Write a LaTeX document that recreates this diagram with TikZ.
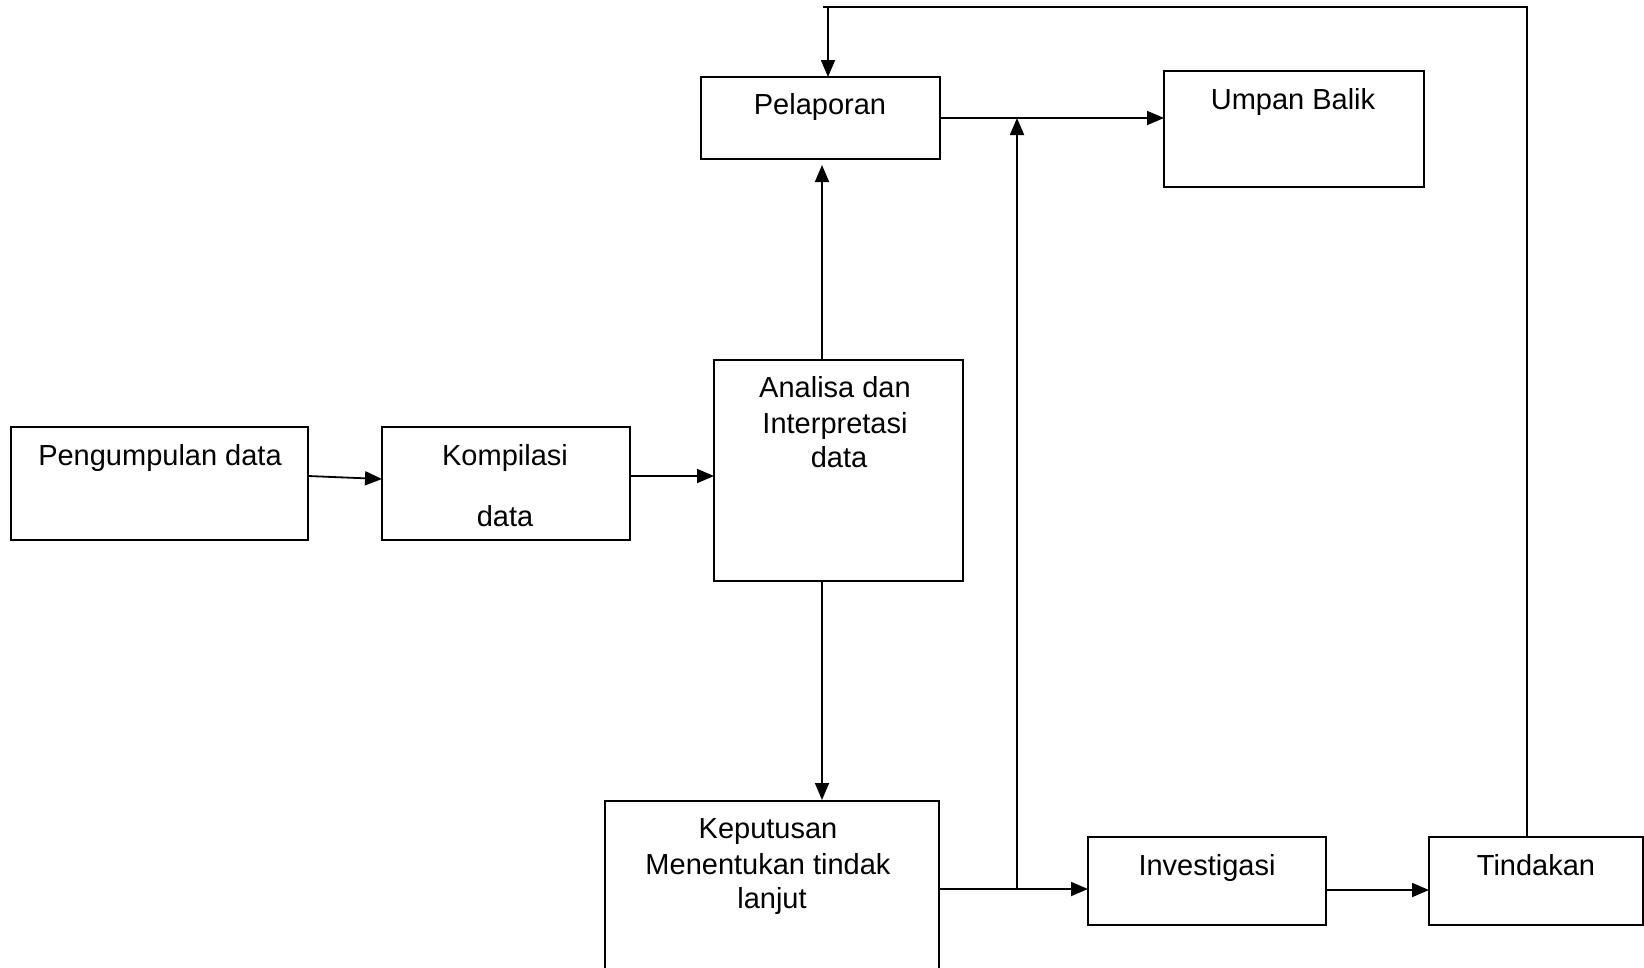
\documentclass[tikz,border=0pt]{standalone}
\usepackage{fontspec}
\setmainfont{Liberation Sans}
\usetikzlibrary{arrows.meta,calc}
\begin{document}
\begin{tikzpicture}[x=1pt,y=-1pt,
  box/.style={draw,line width=1.8pt,inner sep=0pt,outer sep=0pt},
  lbl/.style={anchor=base,inner sep=0pt,font=\fontsize{29}{35}\selectfont},
  conn/.style={line width=1.8pt},
  arr/.style={conn,-{Triangle[length=17pt,width=14pt]}}]
\useasboundingbox (0,0) rectangle (1644,967);
\clip (0,0) rectangle (1644,967);
% boxes
\node[box,minimum width=239pt,minimum height=82pt] (pel) at (820.5,118) {};
\node[box,minimum width=260pt,minimum height=116pt] (ump) at (1294,129) {};
\node[box,minimum width=249pt,minimum height=221pt] (ana) at (838.5,470.5) {};
\node[box,minimum width=297pt,minimum height=113pt] (pen) at (159.5,483.5) {};
\node[box,minimum width=248pt,minimum height=113pt] (kom) at (506,483.5) {};
\node[box,minimum width=334pt,minimum height=198pt] (kep) at (772,900) {};
\node[box,minimum width=238pt,minimum height=88pt] (inv) at (1207,881) {};
\node[box,minimum width=214pt,minimum height=88pt] (tin) at (1536,881) {};
% texts
\node[lbl] (tpel) at (820,114) {Pelaporan};
\node[lbl] (tump) at (1293,109) {Umpan Balik};
\node[lbl] (tana1) at (835,397) {Analisa dan};
\node[lbl] (tana2) at (835,433) {Interpretasi};
\node[lbl] (tana3) at (839,467) {data};
\node[lbl] (tpen) at (160,465) {Pengumpulan data};
\node[lbl] (tkom1) at (505,465) {Kompilasi};
\node[lbl] (tkom2) at (505,526) {data};
\node[lbl] (tkep1) at (768,838) {Keputusan};
\node[lbl] (tkep2) at (768,874) {Menentukan tindak};
\node[lbl] (tkep3) at (772,908) {lanjut};
\node[lbl] (tinv) at (1207,875) {Investigasi};
\node[lbl] (ttin) at (1536,875) {Tindakan};
% helper coordinates
\coordinate (vx) at (822,0);
\coordinate (j) at (1017,889);
\coordinate (tl) at (823,7);
\coordinate (tr) at (1527,7);
\coordinate (ta) at (828,7);
% connectors
\draw[arr] ($(pen.east)+(0,-7.5)$) -- ($(kom.west)+(0,-4.5)$);
\draw[arr] ($(kom.east)+(0,-7.5)$) -- ($(ana.west)+(0,5.5)$);
\draw[arr] (ana.north -| vx) -- ($(pel.south -| vx)+(0,6)$);
\draw[arr] (ana.south -| vx) -- ($(kep.north -| vx)+(0,-1)$);
\draw[arr] (pel.east) -- (ump.west |- pel.east);
\draw[arr] (kep.east |- j) -- (inv.west |- j);
\draw[arr] (j) -- (j |- pel.east);
\draw[arr] ($(inv.east |- j)+(0,1)$) -- ($(tin.west |- j)+(0,1)$);
\draw[conn] (tin.north -| tr) -- (tr) -- (tl);
\draw[arr] (ta) -- (pel.north -| ta);
\end{tikzpicture}
\end{document}
